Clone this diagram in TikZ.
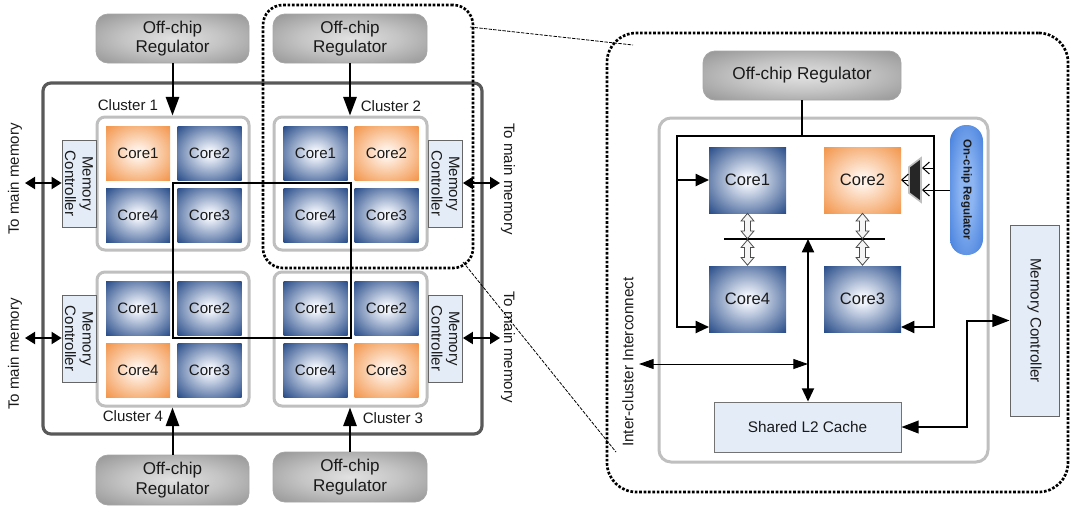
\documentclass[tikz,border=0pt]{standalone}
\usepackage{fontspec}
\setmainfont{Liberation Sans}
\usetikzlibrary{arrows.meta,shapes.arrows,calc}
\definecolor{cblue}{HTML}{2A4E8A}
\definecolor{cbluein}{HTML}{EEF2FA}
\definecolor{corange}{HTML}{F2964B}
\definecolor{corangein}{HTML}{FFF2E8}
\definecolor{rdark}{HTML}{7E7E7E}
\definecolor{rmid}{HTML}{C4C4C4}
\definecolor{rlight}{HTML}{E2E2E2}
\definecolor{pdark}{HTML}{2F6FD6}
\definecolor{plight}{HTML}{8DB5F2}
\definecolor{mcfill}{HTML}{E4ECF7}
\definecolor{chipgray}{HTML}{595959}
\definecolor{clgray}{HTML}{BFBFBF}
\definecolor{txt}{HTML}{1A1A1A}
\pgfdeclareradialshading{bluecore}{\pgfpoint{0bp}{0bp}}{color(0bp)=(cbluein); color(4bp)=(cbluein); color(35bp)=(cblue); color(50bp)=(cblue)}
\pgfdeclareradialshading{orangecore}{\pgfpoint{0bp}{0bp}}{color(0bp)=(corangein); color(4bp)=(corangein); color(35bp)=(corange); color(50bp)=(corange)}
\pgfdeclareradialshading{regshade}{\pgfpoint{0bp}{0bp}}{color(0bp)=(rlight); color(16bp)=(rmid); color(45bp)=(rdark); color(50bp)=(rdark)}
\pgfdeclareradialshading{pillshade}{\pgfpoint{0bp}{0bp}}{color(0bp)=(plight); color(10bp)=(plight); color(42bp)=(pdark); color(50bp)=(pdark)}
\tikzset{
  every node/.style={text=txt},
  sz/.style 2 args={minimum width=#1*0.75pt, minimum height=#2*0.75pt},
  lfont/.style={font=\fontsize{11.3}{13}\selectfont},
  rfont/.style={font=\fontsize{12.4}{14}\selectfont},
  core/.style={inner sep=0pt, outer sep=0pt, shade, lfont},
  bcore/.style={core, shading=bluecore},
  ocore/.style={core, shading=orangecore},
  reg/.style={draw=black!35, line width=0.6pt, shade, shading=regshade, rounded corners=9pt, inner sep=0pt, align=center, font=\fontsize{12.8}{14.5}\selectfont},
  cluster/.style={draw=clgray, line width=2.25pt, rounded corners=6pt, inner sep=0pt},
  mc/.style={draw=black!60, line width=0.6pt, fill=mcfill, inner sep=0pt, rotate=-90, align=center},
  chip/.style={draw=chipgray, line width=2.4pt, rounded corners=6pt, inner sep=0pt},
  feed/.style={line width=1.5pt, -{Triangle[length=14pt,width=10pt]}},
  memarrow/.style={line width=1.5pt, {Triangle[length=7.5pt,width=9pt]}-{Triangle[length=7.5pt,width=9pt]}},
  wire/.style={line width=1.5pt},
  coretips/.style={{Triangle[length=10pt,width=9pt]}-{Triangle[length=10pt,width=9pt]}},
  coretip/.style={-{Triangle[length=10pt,width=9pt]}},
  bustips/.style={{Triangle[length=10pt,width=9pt]}-{Triangle[length=10pt,width=9pt]}},
  ictips/.style={line width=0.75pt, {Triangle[length=11pt,width=7.5pt]}-{Triangle[length=11pt,width=7.5pt]}},
  l2tips/.style={{Triangle[length=13pt,width=9.5pt]}-{Triangle[length=13pt,width=9.5pt]}},
  barb/.style={line width=0.75pt, -{Straight Barb[length=5pt,width=9pt]}},
  dotbox/.style={draw=black, line width=2pt, dash pattern=on 2pt off 1.3pt, inner sep=0pt},
  zoomline/.style={line width=0.6pt, dash pattern=on 2.5pt off 1pt},
  hollow/.style={double arrow, draw=black!70, fill=gray!8, line width=0.6pt, inner sep=1.9pt,
    double arrow head extend=2.6pt, double arrow tip angle=80, rotate=90, minimum height=19pt},
  pill/.style={shade, shading=pillshade, rounded corners=12pt, inner sep=0pt, rotate=-90,
    font=\bfseries\fontsize{8.6}{10}\selectfont},
  l2box/.style={draw=black!55, line width=0.6pt, fill=mcfill, inner sep=0pt, font=\fontsize{11.5}{13}\selectfont}
}
\begin{document}
\begin{tikzpicture}[x=0.75pt,y=-0.75pt]
\useasboundingbox (0,0) rectangle (1071,508);
% ---------------- left panel ----------------
\node[chip, sz={439}{351}] (chip) at (262.5,258.5) {};
\node[reg, sz={153}{49}] (reg1) at (172.5,38.5) {Off-chip\\Regulator};
\node[reg, sz={154}{49}] (reg2) at (350,38.5) {Off-chip\\Regulator};
\node[reg, sz={153}{50}] (reg4) at (172.5,480) {Off-chip\\Regulator};
\node[reg, sz={154}{50}] (reg3) at (350,477) {Off-chip\\Regulator};

\node[cluster, sz={152}{133}] (cl1) at (173,183.5) {};
\node[cluster, sz={153}{133}] (cl2) at (350.5,183.5) {};
\node[cluster, sz={152}{134}] (cl4) at (173,339) {};
\node[cluster, sz={153}{134}] (cl3) at (350.5,339) {};

\node[lfont] (lab1) at (128,105) {Cluster 1};
\node[lfont] (lab2) at (391,106) {Cluster 2};
\node[lfont] (lab4) at (133,416) {Cluster 4};
\node[lfont] (lab3) at (393,418) {Cluster 3};

\coordinate (ringA) at (173,183);
\coordinate (ringB) at (351,338);
\draw[wire] (ringA) rectangle (ringB);

\node[ocore, sz={64}{54}] (a1) at (138,153) {Core1};
\node[bcore, sz={64}{54}] (a2) at (209.5,153) {Core2};
\node[bcore, sz={64}{54}] (a4) at (138,215) {Core4};
\node[bcore, sz={64}{54}] (a3) at (209.5,215) {Core3};

\node[bcore, sz={64}{54}] (b1) at (315.5,153) {Core1};
\node[ocore, sz={64}{54}] (b2) at (386.5,153) {Core2};
\node[bcore, sz={64}{54}] (b4) at (315.5,215) {Core4};
\node[bcore, sz={64}{54}] (b3) at (386.5,215) {Core3};

\node[bcore, sz={64}{54}] (d1) at (138,308) {Core1};
\node[bcore, sz={64}{54}] (d2) at (209.5,308) {Core2};
\node[ocore, sz={64}{54}] (d4) at (138,370) {Core4};
\node[bcore, sz={64}{54}] (d3) at (209.5,370) {Core3};

\node[bcore, sz={64}{54}] (c1) at (315.5,308) {Core1};
\node[bcore, sz={64}{54}] (c2) at (386.5,308) {Core2};
\node[bcore, sz={64}{54}] (c4) at (315.5,370) {Core4};
\node[ocore, sz={64}{54}] (c3) at (386.5,370) {Core3};

\node[mc, lfont, sz={87}{34}] (mcL1) at (79,183.5) {Memory\\Controller};
\node[mc, lfont, sz={87}{34}] (mcL4) at (79,338.5) {Memory\\Controller};
\node[mc, lfont, sz={87}{34}] (mcR2) at (445.5,183.5) {Memory\\Controller};
\node[mc, lfont, sz={87}{34}] (mcR3) at (445.5,338.5) {Memory\\Controller};

\draw[feed] (reg1.south) -- (reg1.south |- cl1.north);
\draw[feed] (reg2.south) -- (reg2.south |- cl2.north);
\draw[feed] (reg4.north) -- (reg4.north |- cl4.south);
\draw[feed] (reg3.north) -- (reg3.north |- cl3.south);

\coordinate (mmL1) at (25,183);
\coordinate (mmL4) at (25,338);
\coordinate (mmR2) at (500,183);
\coordinate (mmR3) at (500,338);
\draw[memarrow] (mmL1) -- (mmL1 -| mcL1.south);
\draw[memarrow] (mmL4) -- (mmL4 -| mcL4.south);
\draw[memarrow] (mmR2 -| mcR2.north) -- (mmR2);
\draw[memarrow] (mmR3 -| mcR3.north) -- (mmR3);

\node[lfont, rotate=90] (tmL1) at (15,179) {To main memory};
\node[lfont, rotate=90] (tmL4) at (15,354) {To main memory};
\node[lfont, rotate=-90] (tmR2) at (508,179) {To main memory};
\node[lfont, rotate=-90] (tmR3) at (508,347) {To main memory};

% ---------------- right panel ----------------
\node[reg, sz={198}{49}, font=\fontsize{12.9}{15}\selectfont] (rreg) at (802,75.5) {Off-chip Regulator};
\node[cluster, sz={329}{344}, rounded corners=9pt] (rcl) at (823.5,290) {};

\node[bcore, rfont, sz={77}{66}] (rc1) at (747.5,180) {Core1};
\node[ocore, rfont, sz={77}{66}] (rc2) at (862.5,180) {Core2};
\node[bcore, rfont, sz={77}{66}] (rc4) at (747.5,299) {Core4};
\node[bcore, rfont, sz={77}{66}] (rc3) at (862.5,299) {Core3};

\node[l2box, sz={187}{50}] (l2) at (807.5,427) {Shared L2 Cache};
\node[mc, font=\fontsize{11.4}{13}\selectfont, sz={191}{49}] (mcr) at (1034.5,320.5) {Memory Controller};
\node[pill, sz={130}{33}] (pill) at (966.5,190) {On-chip Regulator};

\coordinate (pTL) at (677,136);
\coordinate (pTR) at (934,136);
\coordinate (pBL) at (677,327);
\coordinate (pBR) at (934,327);
\draw[wire] (rreg.south) -- (rreg.south |- pTL);
\draw[wire, coretips] (pBL -| rc4.west) -- (pBL) -- (pTL) -- (pTR) -- (pBR) -- (pBR -| rc3.east);
\draw[wire, coretip] (rc1.west -| pTL) -- (rc1.west);

\coordinate (busL) at (724,239);
\coordinate (busR) at (885,239);
\coordinate (busM) at (808,239);
\draw[wire] (busL) -- (busR);
\node[hollow] (h1) at ($(rc1.south)!0.5!(rc1.south |- busL)$) {};
\node[hollow] (h2) at ($(rc4.north)!0.5!(rc4.north |- busL)$) {};
\node[hollow] (h3) at ($(rc2.south)!0.5!(rc2.south |- busL)$) {};
\node[hollow] (h4) at ($(rc3.north)!0.5!(rc3.north |- busL)$) {};

\draw[wire, bustips] (busM) -- (busM |- l2.north);
\coordinate (icL) at (639,364);
\draw[ictips] (icL) -- (icL -| busM);
\coordinate (bend) at (967,427);
\draw[wire, l2tips] (l2.east) -- (bend) -- (bend |- mcr.south) -- (mcr.south);

\filldraw[fill=black!85, draw=black!25, line width=1.2pt] (909,167) -- (921,158) -- (921,202) -- (909,193) -- cycle;
\coordinate (muxIn1) at (922,168);
\coordinate (muxIn2) at (922,190);
\coordinate (muxOut) at (908,180);
\draw[barb] (pTR |- muxIn1) -- (muxIn1);
\draw[barb] (pill.south) -- (pill.south -| muxIn2);
\draw[barb] (muxOut) -- (muxOut -| rc2.east);

\node[font=\fontsize{11.5}{13}\selectfont, rotate=90] (ict) at (628,362) {Inter-cluster Interconnect};

% ---------------- zoom outlines ----------------
\node[dotbox, sz={210}{263}, rounded corners=15pt] (zsmall) at (368,136.5) {};
\node[dotbox, sz={461}{459}, rounded corners=22pt] (zbig) at (837.5,262.5) {};
\coordinate (z1a) at (470,27);
\coordinate (z1b) at (633,45);
\coordinate (z2a) at (463,262);
\coordinate (z2b) at (616,452);
\draw[zoomline] (z1a) -- (z1b);
\draw[zoomline] (z2a) -- (z2b);
\end{tikzpicture}
\end{document}
